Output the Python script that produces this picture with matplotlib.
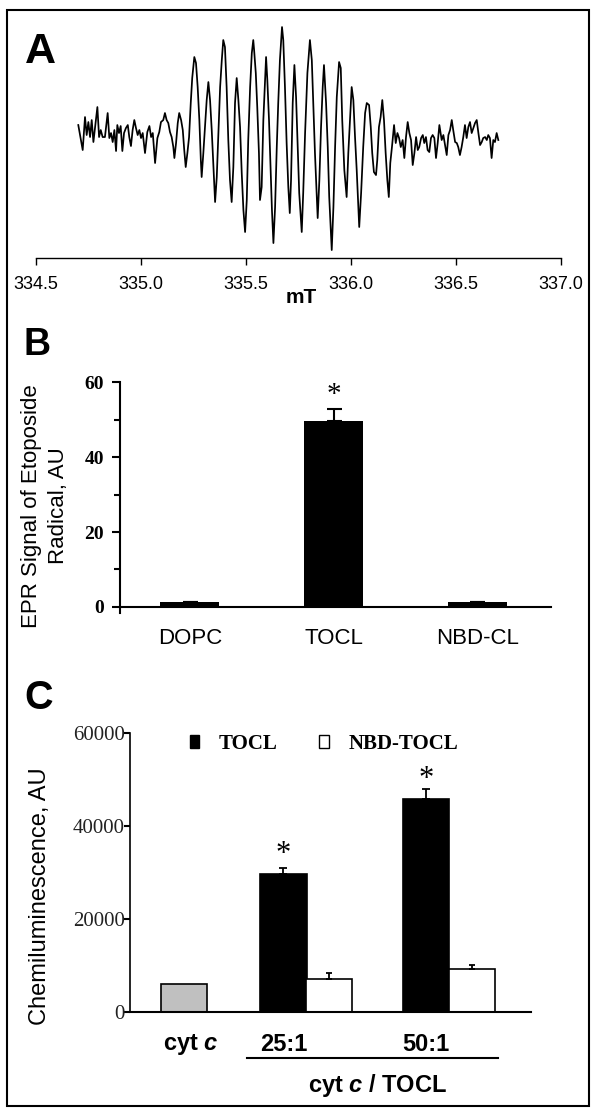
import matplotlib.pyplot as plt
import matplotlib.transforms as mtransforms
from matplotlib.patches import Patch, Rectangle

plt.rcParams['font.family'] = ['Liberation Sans', 'DejaVu Sans']
plt.rcParams['mathtext.fontset'] = 'custom'
plt.rcParams['mathtext.it'] = 'Liberation Sans:italic:bold'
plt.rcParams['mathtext.rm'] = 'Liberation Sans:bold'
SERIF = 'Liberation Serif'

# ---- A: EPR spectrum (field in mT, signal in arbitrary units)
field_mT = [
    334.701, 334.722, 334.733, 334.741, 334.749, 334.757, 334.765, 334.773, 334.781, 334.792,
    334.800, 334.808, 334.817, 334.828, 334.841, 334.849, 334.857, 334.865, 334.873, 334.881,
    334.887, 334.895, 334.903, 334.911, 334.919, 334.928, 334.937, 334.944, 334.952, 334.960,
    334.968, 334.976, 334.984, 334.992, 335.000, 335.008, 335.019, 335.030, 335.040, 335.048,
    335.056, 335.067, 335.078, 335.087,
    335.095, 335.106, 335.114, 335.122, 335.130, 335.138, 335.146, 335.154, 335.159, 335.167,
    335.175, 335.182, 335.191, 335.199, 335.206, 335.213, 335.221, 335.229, 335.237, 335.244,
    335.254, 335.262, 335.270, 335.278, 335.285, 335.289, 335.297, 335.305, 335.313, 335.321,
    335.329, 335.337, 335.345, 335.353, 335.361, 335.368, 335.377, 335.385, 335.392, 335.400,
    335.408, 335.416, 335.424, 335.432, 335.440, 335.448, 335.456, 335.464, 335.472, 335.480,
    335.488, 335.496, 335.504, 335.511, 335.520, 335.528, 335.535,
    335.539, 335.547, 335.554, 335.562, 335.567, 335.575, 335.583, 335.591, 335.596, 335.602,
    335.610, 335.618, 335.624, 335.631, 335.639, 335.647, 335.654, 335.662, 335.672, 335.678,
    335.686, 335.694, 335.702, 335.709, 335.715, 335.723, 335.731, 335.739, 335.747, 335.754,
    335.766, 335.773, 335.782, 335.793, 335.805, 335.814, 335.821, 335.829, 335.837, 335.842,
    335.850, 335.858, 335.866, 335.872, 335.882, 335.890, 335.897, 335.909, 335.917, 335.925,
    335.933, 335.944, 335.952, 335.959, 335.969, 335.980,
    335.988, 335.996, 336.004, 336.012, 336.020, 336.028, 336.036, 336.040, 336.049, 336.059,
    336.068, 336.076, 336.087, 336.095, 336.102, 336.110, 336.120, 336.126, 336.134, 336.142,
    336.150, 336.158, 336.166, 336.174, 336.181, 336.188, 336.196, 336.206, 336.214, 336.222,
    336.230, 336.238, 336.247, 336.255, 336.263, 336.271, 336.279, 336.287, 336.295, 336.303,
    336.311, 336.319, 336.326, 336.335, 336.343, 336.350, 336.358, 336.366, 336.374, 336.382,
    336.390, 336.398, 336.406, 336.414, 336.422,
    336.433, 336.441, 336.449, 336.457, 336.465, 336.473, 336.481, 336.488, 336.497, 336.505,
    336.512, 336.520, 336.528, 336.536, 336.544, 336.552, 336.560, 336.568, 336.576, 336.584,
    336.592, 336.600, 336.608, 336.616, 336.624, 336.631, 336.640, 336.648, 336.655, 336.663,
    336.671, 336.679, 336.687, 336.695, 336.703,
]
signal = [
    12, -13, 20, 2, 15, 0, 17, -5, 10, 30,
    0, 7, 0, 0, 24, -1, 4, -5, 7, -14,
    12, 4, 11, -14, 4, 9, 12, 0, -9, 7,
    17, 9, 2, 7, -1, 4, -16, 5, 11, 0,
    4, -26, -1, 5,
    15, 17, 24, 17, 14, 5, 0, -10, -21, -6,
    14, 24, 17, 7, -13, -30, -16, 0, 34, 59,
    80, 74, 50, 17, -23, -40, -16, 10, 37, 55,
    37, 7, -30, -65, -40, 0, 50, 77, 97, 90,
    50, -3, -43, -65, -30, 34, 59, 37, 10, -36,
    -73, -95, -63, -3, 50, 84, 97,
    87, 64, 30, -16, -63, -50, 17, 57, 80, 57,
    17, -33, -73, -106, -70, -10, 34, 77, 110, 97,
    50, -6, -50, -76, -43, 34, 72, 40, -10, -56,
    -95, -56, 4, 64, 97, 77, 34, -16, -56, -81,
    -43, 10, 50, 72, 34, -10, -60, -113, -70, -10,
    40, 75, 69, 17, -33, -60,
    -16, 17, 50, 37, 0, -33, -70, -90, -56, -10,
    24, 34, 32, 10, -16, -35, -38, -23, 10, 20,
    37, 17, -16, -43, -60, -26, -10, 12, -6, 4,
    -1, -10, -3, -21, 0, 15, 4, -3, -28, -16,
    0, -13, -10, -1, 2, -6, 0, -13, -15, -1,
    2, -1, -21, -6, 12,
    -3, 2, -8, -18, 2, 7, 17, 7, -5, -6,
    -10, -18, -10, 0, 12, -1, 10, 15, 4, 9,
    14, 17, 4, -8, -5, -1, 0, -3, 2, -1,
    -21, -3, -5, 4, -3,
]
field_ticks = [334.5, 335.0, 335.5, 336.0, 336.5, 337.0]

# ---- B: EPR signal of etoposide radical
b_labels = ['DOPC', 'TOCL', 'NBD-CL']
b_values = [1.2, 49.5, 1.2]
b_err = [0, 3.3, 0]
b_star = 58.7

# ---- C: chemiluminescence
c_ratios = ['25:1', '50:1']
c_cytc = 6000
c_tocl = [29700, 45900]
c_tocl_err = [1230, 2080]
c_nbd = [7100, 9200]
c_nbd_err = [1220, 930]
c_star = [35700, 51900]

fig = plt.figure(figsize=(6, 11.19), dpi=100)

# ---------------- panel A
ax_a = fig.add_axes([0.0602, 0.7694, 0.8742, 0.2127])
ax_a.plot(field_mT, signal, color='black', lw=1.25)
ax_a.set_xlim(334.5, 337.0)
ax_a.set_ylim(-121, 117)
for s in ['top', 'left', 'right']:
    ax_a.spines[s].set_visible(False)
ax_a.spines['bottom'].set_linewidth(1.0)
ax_a.set_yticks([])
ax_a.set_xticks(field_ticks)
ax_a.set_xticklabels([f'{t:.1f}' for t in field_ticks])
ax_a.tick_params(axis='x', direction='out', length=5, width=1, labelsize=13, pad=8)
fig.text(300.8 / 600, 1 - 297.5 / 1119, 'mT', ha='center', va='center',
         fontsize=15, fontweight='bold')

# ---------------- panel B
ax_b = fig.add_axes([0.1992, 0.4522, 0.7185, 0.2064])
xb = range(len(b_labels))
ax_b.bar(xb, b_values, width=0.41, color='black')
ax_b.errorbar(xb, b_values, yerr=[[0] * 3, b_err], fmt='none', ecolor='black',
              elinewidth=1.5, capsize=5.4, capthick=1.5)
ax_b.annotate('*', xy=(1, b_star), xytext=(0, -5.5), textcoords='offset points',
              ha='center', va='center', fontsize=21, family=SERIF, annotation_clip=False)
ax_b.set_xlim(-0.489, 2.51)
ax_b.set_ylim(-1.6, 60)
ax_b.spines['top'].set_visible(False)
ax_b.spines['right'].set_visible(False)
ax_b.spines['left'].set_linewidth(1.5)
ax_b.spines['bottom'].set_linewidth(1.5)
ax_b.spines['bottom'].set_position(('data', 0))
ax_b.set_yticks([0, 20, 40, 60])
ax_b.set_yticks([10, 30, 50], minor=True)
ax_b.tick_params(axis='y', which='major', length=6, width=1.5, pad=5)
ax_b.tick_params(axis='y', which='minor', length=4, width=1.5)
for lab in ax_b.get_yticklabels():
    lab.set_fontfamily(SERIF)
    lab.set_fontweight('bold')
    lab.set_fontsize(14)
ax_b.set_xticks(list(xb))
ax_b.set_xticklabels(b_labels, fontsize=16)
ax_b.tick_params(axis='x', length=0, pad=15)
fig.text(45 / 600, 1 - 506 / 1119, 'EPR Signal of Etoposide\nRadical, AU', rotation=90,
         ha='center', va='center', fontsize=16, linespacing=1.35, multialignment='center')

# ---------------- panel C
ax_c = fig.add_axes([0.2172, 0.0956, 0.6673, 0.2491])
centers = [0.86, 1.86]
w = 0.323
tocl_x = [c - 0.161 for c in centers]
nbd_x = [c + 0.161 for c in centers]
ax_c.bar(0, c_cytc, width=w, color='#c0c0c0', edgecolor='black', lw=1.2)
ax_c.bar(tocl_x, c_tocl, width=w, color='black', edgecolor='black', lw=1.2)
ax_c.bar(nbd_x, c_nbd, width=w, color='white', edgecolor='black', lw=1.2)
ax_c.errorbar(tocl_x, c_tocl, yerr=[[0, 0], c_tocl_err], fmt='none', ecolor='black',
              elinewidth=1.3, capsize=3, capthick=1.3)
ax_c.errorbar(nbd_x, c_nbd, yerr=[[0, 0], c_nbd_err], fmt='none', ecolor='black',
              elinewidth=1.3, capsize=2, capthick=1.3)
for x, y in zip(tocl_x, c_star):
    ax_c.annotate('*', xy=(x, y), xytext=(0, -6), textcoords='offset points',
                  ha='center', va='center', fontsize=22, family=SERIF, annotation_clip=False)
ax_c.set_xlim(-0.376, 2.434)
ax_c.set_ylim(0, 60000)
ax_c.spines['top'].set_visible(False)
ax_c.spines['right'].set_visible(False)
ax_c.spines['left'].set_linewidth(1.2)
ax_c.spines['bottom'].set_linewidth(1.5)
ax_c.set_xticks([])
ax_c.set_yticks([0, 20000, 40000, 60000])
ax_c.tick_params(axis='y', length=4, width=1.5, pad=0, labelcolor='#222222')
for lab in ax_c.get_yticklabels():
    lab.set_fontfamily(SERIF)
    lab.set_fontsize(15)

handles = [Patch(facecolor='black', edgecolor='black', lw=1, label='TOCL'),
           Patch(facecolor='white', edgecolor='black', lw=1, label='NBD-TOCL')]
ax_c.legend(handles=handles, loc='center', bbox_to_anchor=(0.484, 0.962), ncol=2,
            frameon=False, prop={'family': SERIF, 'weight': 'bold', 'size': 15},
            handlelength=0.45, handleheight=0.55, handletextpad=0.95,
            columnspacing=2.0, borderpad=0, borderaxespad=0)

blend = mtransforms.blended_transform_factory(ax_c.transData, ax_c.transAxes)
ax_c.text(0.05, -0.1148, r'cyt $c$', transform=blend, ha='center', va='center',
          fontsize=17, fontweight='bold')
for x, lab in zip(tocl_x, c_ratios):
    ax_c.text(x, -0.1148, lab, transform=blend, ha='center', va='center',
              fontsize=17, fontweight='bold')
ax_c.plot([0.443, 2.204], [-0.165, -0.165], transform=blend, color='black',
          lw=1.5, clip_on=False)
ax_c.text(1.358, -0.262, r'cyt $c$ / TOCL', transform=blend, ha='center', va='center',
          fontsize=17, fontweight='bold')
fig.text(40 / 600, 1 - 896 / 1119, 'Chemiluminescence, AU', rotation=90,
         ha='center', va='center', fontsize=17)

# ---------------- panel letters and frame
fig.text(25 / 600, 1 - 63.3 / 1119, 'A', fontsize=31, fontweight='bold', va='baseline')
fig.text(24 / 600, 1 - 355 / 1119, 'B', fontsize=27, fontweight='bold', va='baseline')
fig.text(24 / 600, 1 - 709 / 1119, 'C', fontsize=28.5, fontweight='bold', va='baseline')
fig.add_artist(Rectangle((0.01167, 0.01162), 0.97, 0.97944, transform=fig.transFigure,
                         fill=False, lw=1.5, edgecolor='black'))

fig.savefig('out.png', dpi=100)
